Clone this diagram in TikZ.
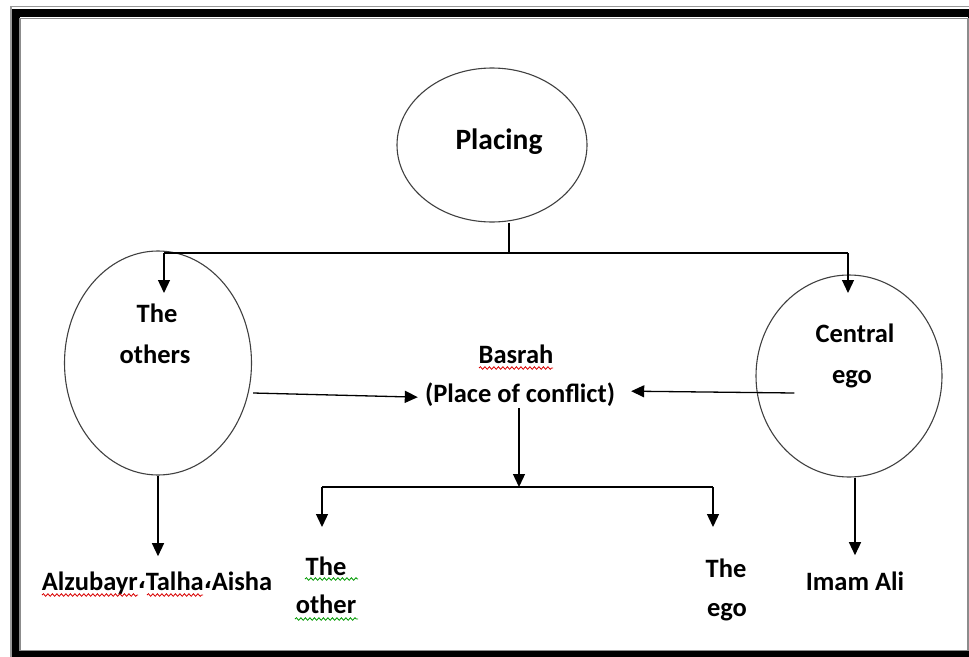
\documentclass[tikz,border=0pt]{standalone}
\usepackage{fontspec}
\setmainfont{Carlito}
\newfontfamily\arabicfont[Script=Arabic]{DejaVu Sans}
\newcommand{\arcomma}{\raisebox{2pt}{\arabicfont\bfseries\fontsize{21}{24}\selectfont ،}}
\usetikzlibrary{shapes.geometric,arrows.meta,calc,decorations.pathmorphing}
\begin{document}
\begin{tikzpicture}[x=1pt,y=-1pt,
  txt/.style={font=\fontsize{26.5}{30}\selectfont\bfseries, inner sep=0pt, anchor=base, text=black},
  bigtxt/.style={txt, font=\fontsize{29.5}{33}\selectfont\bfseries},
  oval/.style={draw=black!75, line width=1.1pt, ellipse, inner sep=0pt},
  conn/.style={line width=1.3pt, draw=black},
  arr/.style={conn, -{Triangle[width=12pt,length=13pt]}},
  redsq/.style={draw=red!85!black, line width=0.8pt, decorate, decoration={snake, amplitude=1.3pt, segment length=4.5pt}},
  greensq/.style={redsq, draw=green!60!black}
]
\useasboundingbox (0,0) rectangle (969,656);
\begin{scope}
\clip (0,0) rectangle (969,656);
% frame
\draw[black, line width=8pt] (16,12.5) rectangle (972,655);
\draw[black!45, line width=1.2pt] (20,18.5) rectangle (968,650.5);
\draw[black!40, line width=1.5pt] (11,6.5) rectangle (977,661);
\end{scope}

% ellipses
\node[oval, minimum width=190pt, minimum height=154pt] (placing) at (492,145) {};
\node[oval, minimum width=187pt, minimum height=224pt] (others) at (158,363) {};
\node[oval, minimum width=186pt, minimum height=202pt] (central) at (849,376) {};

% texts
\node[bigtxt] (tplacing) at (499,149) {Placing};
\node[txt] (oth1) at (157,322) {The};
\node[txt] (oth2) at (155,363) {others};
\node[txt] (cen1) at (855,342) {Central};
\node[txt] (cen2) at (852,383) {ego};
\node[txt] (basrah1) at (516,363) {Basrah};
\node[txt] (basrah2) at (520,402) {(Place of conflict)};
\node[txt] (alz) at (157,590) {Alzubayr\arcomma Talha\arcomma Aisha};
\node[txt] (other1) at (326,575) {The};
\node[txt] (other2) at (326,613) {other};
\node[txt] (ego1) at (726,577) {The};
\node[txt] (ego2) at (727,616) {ego};
\node[txt] (imam) at (855,590) {Imam Ali};

% junction coordinates
\coordinate (j) at (509,253);
\coordinate (hl) at (164,253);
\coordinate (hr) at (848,253);
\coordinate (oa) at (164,293);
\coordinate (ca) at (848,293);
\coordinate (m) at (519,487);
\coordinate (bl) at (322,487);
\coordinate (br) at (713,487);
\coordinate (tl) at (322,527);
\coordinate (tr) at (713,527);

% connectors
\draw[conn] (j |- placing.south) -- (j);
\draw[conn] (hl) -- (hr);
\draw[arr] (hl) -- (oa);
\draw[arr] (hr) -- (ca);
\draw[arr] ($(others.east)+(1,30)$) -- ($(basrah2.west)+(-7,3)$);
\draw[arr] ($(central.west)+(39,17)$) -- ($(basrah2.east)+(16,-3)$);
\draw[arr] ($(basrah2.south -| m)+(0,2)$) -- (m);
\draw[conn] (bl) -- (br);
\draw[arr] (bl) -- (tl);
\draw[arr] (br) -- (tr);
\draw[arr, shorten >=15pt] (others.south) -- (others.south |- alz.north);
\draw[arr, shorten >=16pt] (imam.north |- central.south) -- (imam.north);

% proofing squiggles
\draw[redsq] (479,368) -- (553,368);
\draw[redsq] (42,595) -- (138,595);
\draw[redsq] (147,595) -- (203,595);
\draw[greensq] (305,579) -- (358,579);
\draw[greensq] (295,619) -- (358,619);
\end{tikzpicture}
\end{document}
